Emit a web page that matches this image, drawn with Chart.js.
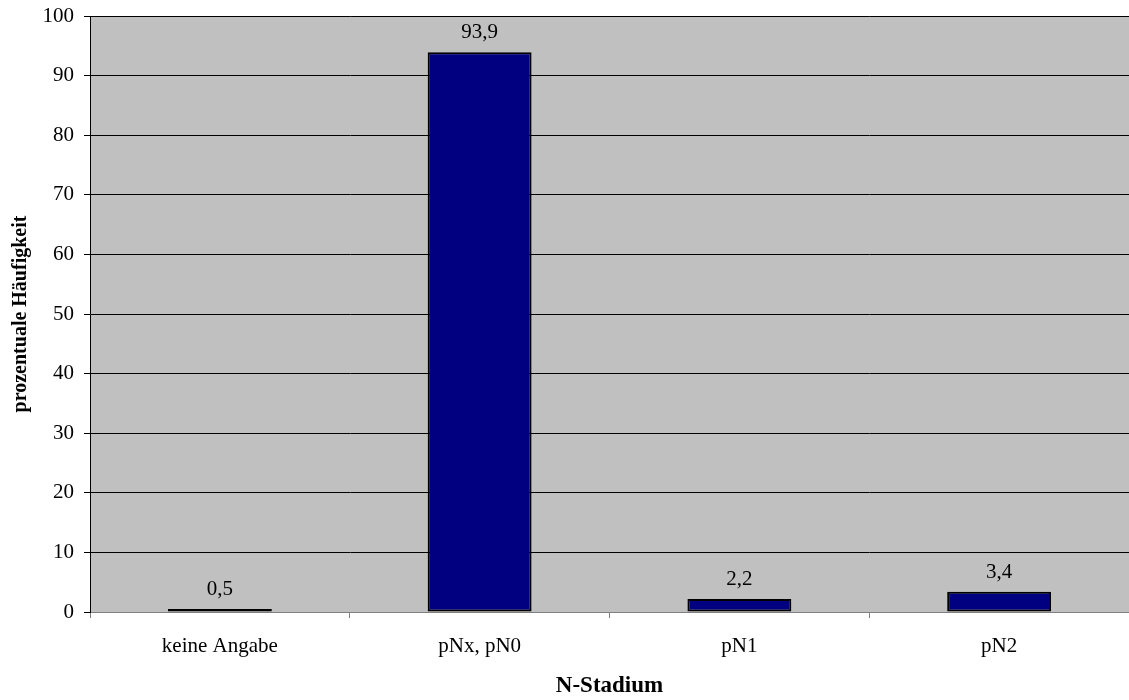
<!DOCTYPE html>
<html>
<head>
<meta charset="utf-8">
<script src="https://cdn.jsdelivr.net/npm/chart.js@4/dist/chart.umd.min.js"></script>
<style>
  html, body { margin: 0; padding: 0; background: #ffffff; }
  #wrap { width: 1129px; height: 700px; }
</style>
</head>
<body>
<div id="wrap"><canvas id="chart" width="1129" height="700"></canvas></div>
<script>
// N-Stadium distribution (percent)
const categories = ['keine Angabe', 'pNx, pN0', 'pN1', 'pN2'];
const percentages = [0.5, 93.9, 2.2, 3.4];
const yTicks = [0, 10, 20, 30, 40, 50, 60, 70, 80, 90, 100];

const FONT = '"Liberation Serif", "Times New Roman", serif';

const fmt = v => v.toLocaleString('de-DE', { minimumFractionDigits: 1, maximumFractionDigits: 1 });

// grey plot area with a thin grey frame line on top
const plotBackground = {
  id: 'plotBackground',
  beforeDraw(chart) {
    const { ctx, chartArea: a } = chart;
    ctx.save();
    ctx.fillStyle = '#c0c0c0';
    ctx.fillRect(a.left, a.top, a.right - a.left, a.bottom - a.top);
    ctx.strokeStyle = '#808080';
    ctx.lineWidth = 1;
    ctx.beginPath();
    ctx.moveTo(a.left, a.top + 0.5);
    ctx.lineTo(a.right, a.top + 0.5);
    ctx.stroke();
    ctx.restore();
  }
};

// value labels above each bar
const valueLabels = {
  id: 'valueLabels',
  afterDatasetsDraw(chart) {
    const { ctx } = chart;
    const meta = chart.getDatasetMeta(0);
    ctx.save();
    ctx.fillStyle = '#000000';
    ctx.font = '21px ' + FONT;
    ctx.textAlign = 'center';
    ctx.textBaseline = 'bottom';
    meta.data.forEach((bar, i) => {
      ctx.fillText(fmt(percentages[i]), bar.x, bar.y - 9);
    });
    ctx.restore();
  }
};

new Chart(document.getElementById('chart'), {
  type: 'bar',
  data: {
    labels: categories,
    datasets: [{
      data: percentages,
      backgroundColor: '#000080',
      borderColor: '#000000',
      borderWidth: 2,
      borderSkipped: false,
      barPercentage: 0.4,
      categoryPercentage: 1.0
    }]
  },
  options: {
    responsive: false,
    animation: false,
    layout: { padding: { top: 16, right: -4, bottom: 0, left: 0 } },
    plugins: {
      legend: { display: false },
      tooltip: { enabled: false }
    },
    scales: {
      x: {
        grid: {
          offset: true,
          drawOnChartArea: false,
          drawTicks: true,
          tickLength: 6,
          color: '#808080'
        },
        border: { color: '#808080', width: 1 },
        ticks: {
          color: '#000000',
          font: { family: FONT, size: 21 },
          padding: 16,
          maxRotation: 0
        },
        title: {
          display: true,
          text: 'N-Stadium',
          color: '#000000',
          font: { family: FONT, size: 23, weight: 'bold' },
          padding: { top: 0, bottom: 0 }
        },
        afterFit(scale) {
          scale.height = 88;
          scale.paddingLeft = 0;
          scale.paddingRight = 0;
        }
      },
      y: {
        min: 0,
        max: 100,
        afterBuildTicks(scale) { scale.ticks = yTicks.map(v => ({ value: v })); },
        grid: {
          color: '#000000',
          lineWidth: 1,
          drawTicks: true,
          tickLength: 6
        },
        border: { color: '#000000', width: 1 },
        ticks: {
          color: '#000000',
          font: { family: FONT, size: 21 },
          padding: 10
        },
        title: {
          display: true,
          text: 'prozentuale Häufigkeit',
          color: '#000000',
          font: { family: FONT, size: 20, weight: 'bold' },
          padding: { top: 9, bottom: 0 }
        },
        afterFit(scale) {
          scale.width = 90;
          scale.paddingTop = 0;
          scale.paddingBottom = 0;
        }
      }
    }
  },
  plugins: [plotBackground, valueLabels]
});
</script>
</body>
</html>
